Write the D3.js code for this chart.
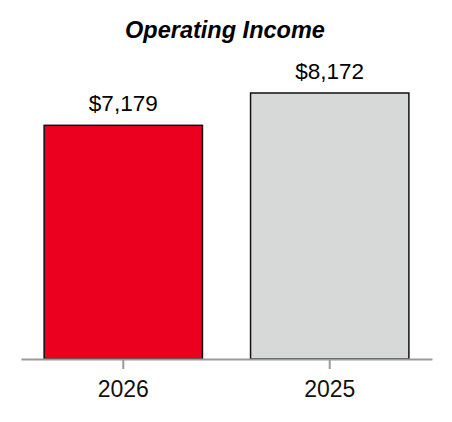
<!DOCTYPE html>
<html>
<head>
<meta charset="utf-8">
<script src="https://cdn.jsdelivr.net/npm/d3@7"></script>
<style>
  body { margin: 0; background: #fff; }
  text { font-family: "Liberation Sans", Arial, sans-serif; }
</style>
</head>
<body>
<div id="chart"></div>
<script>
let years = ["2026", "2025"];
let values = [7179, 8172];
let barColors = ["#ec0020", "#d7d9d8"];

let width = 452;
let height = 422;
let baseline = 359;

let svg = d3.select('#chart').append('svg')
  .attr('width', width)
  .attr('height', height)

let data = years.map((y, i) => ({ year: y, value: values[i], color: barColors[i] }));

let x = d3.scaleBand()
  .domain(years)
  .range([21, 432])
  .paddingInner(0.233)
  .paddingOuter(0.112);

let y = d3.scaleLinear()
  .domain([0, 8172])
  .range([baseline, 93]);

// title
svg.append('text')
  .attr('x', 225)
  .attr('y', 38)
  .attr('text-anchor', 'middle')
  .style('font-size', '23.5px')
  .style('font-weight', 'bold')
  .style('font-style', 'italic')
  .text('Operating Income');

// bars
svg.selectAll('.bar')
  .data(data)
  .enter()
  .append('rect').classed('bar', true)
  .attr('x', d => x(d.year))
  .attr('y', d => y(d.value))
  .attr('width', x.bandwidth())
  .attr('height', d => baseline - y(d.value))
  .attr('fill', d => d.color)
  .attr('stroke', '#111')
  .attr('stroke-width', 1.5);

// value labels
svg.selectAll('.lbl')
  .data(data)
  .enter()
  .append('text').classed('lbl', true)
  .attr('x', d => x(d.year) + x.bandwidth() / 2)
  .attr('y', d => y(d.value) - 14)
  .attr('text-anchor', 'middle')
  .style('font-size', '22.5px')
  .text(d => '$' + d3.format(',')(d.value));

// x axis
let axis = svg.append('g')
  .attr('transform', 'translate(0,' + baseline + ')')
  .call(d3.axisBottom(x).tickSize(10).tickPadding(12).tickSizeOuter(0));

axis.select('.domain').attr('stroke', '#9a9a9a').attr('stroke-width', 2);
axis.selectAll('.tick line').attr('stroke', '#9a9a9a').attr('stroke-width', 2);
axis.selectAll('.tick text')
  .attr('fill', '#111')
  .style('font-size', '23px')
  .style('font-family', '"Liberation Sans", Arial, sans-serif');
</script>
</body>
</html>
